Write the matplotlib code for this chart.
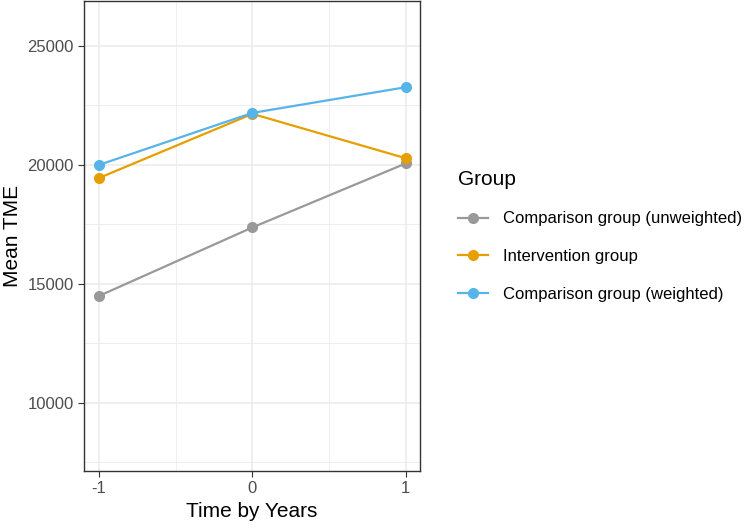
import matplotlib
matplotlib.use("Agg")
import matplotlib.pyplot as plt
from matplotlib.ticker import FixedLocator

plt.rcParams['font.family'] = ['Liberation Sans', 'DejaVu Sans']

years = [-1, 0, 1]
groups = ["Comparison group (unweighted)", "Intervention group", "Comparison group (weighted)"]
unweighted = [14490, 17370, 20060]
intervention = [19450, 22145, 20280]
weighted = [20000, 22185, 23265]
colors = ["#999999", "#E69F00", "#56B4E9"]
yticks = [10000, 15000, 20000, 25000]
xticks = [-1, 0, 1]

fig = plt.figure(figsize=(7.5, 5.28), dpi=100)
ax = fig.add_axes([84/750, 1 - 471/528, (420-84)/750, (471-1)/528])

for vals, c, lab in zip([unweighted, intervention, weighted], colors, groups):
    ax.plot(years, vals, color=c, lw=1.6, marker='o', ms=7, label=lab, zorder=3)

ax.set_xlim(-1.098, 1.093)
ax.set_ylim(7130, 26890)
ax.set_xticks(xticks)
ax.set_xticklabels([str(v) for v in xticks])
ax.set_yticks(yticks)
ax.yaxis.set_minor_locator(FixedLocator([7500, 12500, 17500, 22500]))
ax.xaxis.set_minor_locator(FixedLocator([-0.5, 0.5]))
ax.grid(True, which='major', color='#EBEBEB', lw=1.1, zorder=0)
ax.grid(True, which='minor', color='#EBEBEB', lw=0.55, zorder=0)
ax.tick_params(which='minor', length=0)
ax.tick_params(which='major', length=4, color='#333333', width=0.8, labelsize=12, labelcolor='#4D4D4D')
for s in ax.spines.values():
    s.set_color('#333333')
    s.set_linewidth(1.0)
ax.set_axisbelow(True)
ax.set_xlabel("Time by Years", fontsize=15, color='black', labelpad=4)
ax.set_ylabel("Mean TME", fontsize=15, color='black', labelpad=4)

leg = fig.legend(loc='upper left', bbox_to_anchor=(443/750, 1 - 155/528), frameon=False,
                 title="Group", title_fontsize=15, fontsize=12, handlelength=1.8,
                 labelspacing=1.35, handletextpad=0.9, alignment='left')
fig.savefig("out.png", dpi=100)
